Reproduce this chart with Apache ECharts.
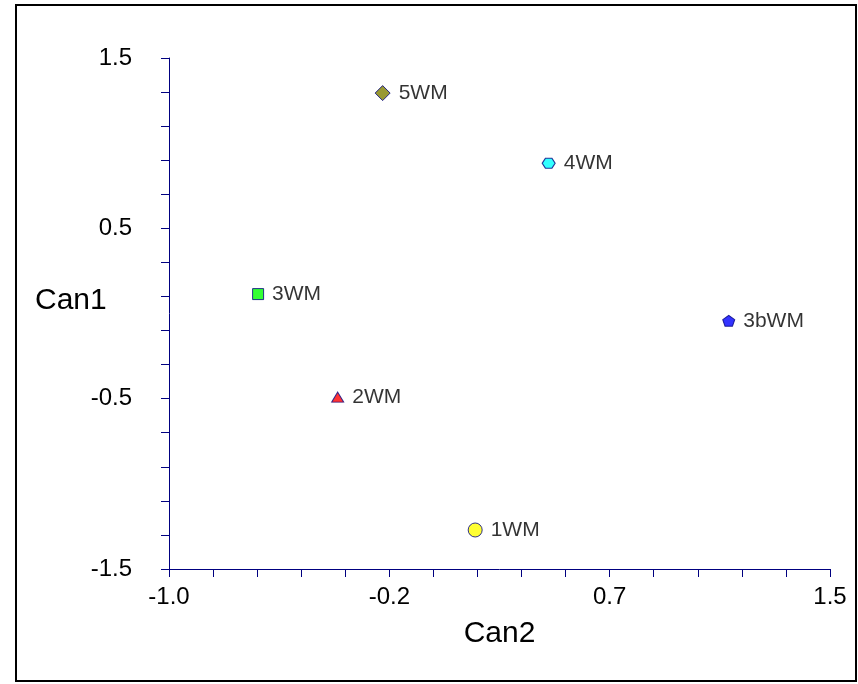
<!DOCTYPE html>
<html>
<head>
<meta charset="utf-8">
<script src="https://cdn.jsdelivr.net/npm/echarts@6.0.0/dist/echarts.min.js"></script>
<style>
  html, body { margin: 0; padding: 0; background: #fff; }
  #chart { width: 858px; height: 684px; }
</style>
</head>
<body>
<div id="chart"></div>
<script>
// 数据
const names = ['1WM', '2WM', '3WM', '3bWM', '4WM', '5WM'];
const can2 = [0.158, -0.362, -0.663, 1.117, 0.436, -0.192];
const can1 = [-1.271, -0.491, 0.114, -0.043, 0.882, 1.294];

// 刻度
const xLabelValues = [-1, -0.16667, 0.66667, 1.5];
const xTickValues = [-1, -0.83333, -0.66667, -0.5, -0.33333, -0.16667, 0, 0.16667,
  0.33333, 0.5, 0.66667, 0.83333, 1, 1.16667, 1.33333, 1.5];
const yLabelValues = [-1.5, -0.5, 0.5, 1.5];
const yTickValues = [-1.5, -1.3, -1.1, -0.9, -0.7, -0.5, -0.3, -0.1, 0.1, 0.3,
  0.5, 0.7, 0.9, 1.1, 1.3, 1.5];

// 样式
const colors = ['#ffff00', '#ff0000', '#00ff00', '#0000ff', '#00ffff', '#808000'];
const symbols = [
  'circle',
  'triangle',
  'rect',
  'path://M6,0 L12,4.4 L9.7,11 L2.3,11 L0,4.4 Z',
  'path://M0,5 L3,0 L9,0 L12,5 L9,10 L3,10 Z',
  'diamond'
];
const sizes = [[14, 14], [12, 10], [11, 11], [12, 11], [13, 10], [15, 15]];

const font = 'Liberation Sans, Arial, sans-serif';
const axisColor = '#000080';

const chart = echarts.init(document.getElementById('chart'));

const points = names.map((n, i) => ({
  name: n,
  value: [can2[i], can1[i]],
  symbol: symbols[i],
  symbolSize: sizes[i],
  itemStyle: { color: colors[i], borderColor: axisColor, borderWidth: 1 }
}));

chart.setOption({
  animation: false,
  backgroundColor: '#fff',
  grid: { left: 169, right: 28, top: 58, bottom: 115 },
  xAxis: {
    type: 'value',
    min: -1,
    max: 1.5,
    name: 'Can2',
    nameLocation: 'middle',
    nameGap: 50,
    nameTextStyle: { fontFamily: font, fontSize: 30, color: '#000' },
    axisLine: { onZero: false, lineStyle: { color: axisColor, width: 1 } },
    axisTick: { show: true, length: 8, customValues: xTickValues, lineStyle: { color: axisColor } },
    axisLabel: {
      customValues: xLabelValues,
      margin: 16,
      fontFamily: font,
      fontSize: 24,
      color: '#000',
      formatter: (v) => v.toFixed(1)
    },
    splitLine: { show: false }
  },
  yAxis: {
    type: 'value',
    min: -1.5,
    max: 1.5,
    axisLine: { onZero: false, lineStyle: { color: axisColor, width: 1 } },
    axisTick: { show: true, length: 8, customValues: yTickValues, lineStyle: { color: axisColor } },
    axisLabel: {
      customValues: yLabelValues,
      margin: 37,
      fontFamily: font,
      fontSize: 24,
      color: '#000',
      formatter: (v) => v.toFixed(1)
    },
    splitLine: { show: false }
  },
  graphic: [
    {
      type: 'rect',
      shape: { x: 16, y: 5, width: 840, height: 676 },
      style: { fill: null, stroke: '#000', lineWidth: 2 },
      silent: true
    },
    {
      type: 'text',
      left: 35,
      top: 286,
      style: { text: 'Can1', fontFamily: font, fontSize: 30, fill: '#000' }
    }
  ],
  series: [
    {
      type: 'scatter',
      data: points,
      label: {
        show: true,
        position: 'right',
        distance: 8,
        formatter: '{b}',
        fontFamily: font,
        fontSize: 21,
        color: '#000'
      }
    }
  ]
});
</script>
</body>
</html>
